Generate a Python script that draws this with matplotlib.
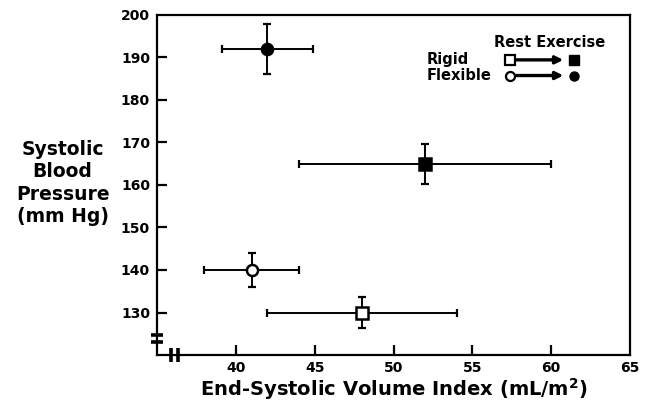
import matplotlib
matplotlib.use("Agg")
import matplotlib.pyplot as plt
from matplotlib.lines import Line2D

plt.rcParams['font.family'] = ['DejaVu Sans']
plt.rcParams['font.weight'] = 'bold'
plt.rcParams['mathtext.default'] = 'bf'

# Data: (x = ESVI mean, xerr, y = SBP mean, yerr)
groups = ["Rigid rest", "Rigid exercise", "Flexible rest", "Flexible exercise"]
esvi = [48, 52, 41, 42]
esvi_err = [6, 8, 3, 2.9]
sbp = [130, 165, 140, 192]
sbp_err = [3.7, 4.7, 3.9, 5.8]
markers = ["s", "s", "o", "o"]
filled = [False, True, False, True]

xticks = [40, 45, 50, 55, 60, 65]
yticks = [130, 140, 150, 160, 170, 180, 190, 200]

fig = plt.figure(figsize=(6.52, 4.03), dpi=100)
ax = fig.add_axes([0.2408, 0.1191, 0.7255, 0.8437])

for x, xe, y, ye, m, f in zip(esvi, esvi_err, sbp, sbp_err, markers, filled):
    ax.errorbar(x, y, xerr=xe, yerr=ye, fmt='none', ecolor='black',
                elinewidth=1.4, capsize=2.8, capthick=1.6, zorder=2)
    ax.plot(x, y, marker=m, markersize=8,
            markerfacecolor='black' if f else 'white',
            markeredgecolor='black', markeredgewidth=1.8, linestyle='none', zorder=3)

ax.set_xlim(35, 65)
ax.set_ylim(120, 200)
ax.set_xticks(xticks)
ax.set_yticks(yticks)
ax.tick_params(direction='in', length=7, width=1.6, labelsize=10)
ax.tick_params(axis='y', pad=5)
ax.tick_params(axis='x', pad=4)
for lab in ax.get_xticklabels() + ax.get_yticklabels():
    lab.set_fontweight('bold')
for t in ax.xaxis.get_major_ticks():
    if t.get_loc() == 65:
        t.tick1line.set_visible(False)
for t in ax.yaxis.get_major_ticks():
    if t.get_loc() == 200:
        t.tick1line.set_visible(False)
for s in ax.spines.values():
    s.set_linewidth(1.6)

ax.set_xlabel("End-Systolic Volume Index (mL/m$^2$)", fontsize=14,
              fontweight='bold', labelpad=1)
fig.text(0.096, 0.546, "Systolic\nBlood\nPressure\n(mm Hg)", ha='center', va='center',
         fontsize=13.5, fontweight='bold', linespacing=1.22)

# axis break marks
tr = ax.transData
for yb in (124.6, 123.0):
    ax.add_line(Line2D([34.6, 35.35], [yb, yb], color='black', lw=2.6,
                       transform=tr, clip_on=False, solid_capstyle='butt'))
ax.add_line(Line2D([35, 35], [123.2, 124.4], color='white', lw=3, transform=tr,
                   clip_on=False, zorder=1))
for xb in (35.9, 36.35):
    ax.add_line(Line2D([xb, xb], [118.3, 121.7], color='black', lw=2.6,
                       transform=tr, clip_on=False, solid_capstyle='butt'))
ax.add_line(Line2D([35.95, 36.3], [120, 120], color='white', lw=3, transform=tr,
                   clip_on=False, zorder=1))

# legend
ax.text(0.831, 0.918, "Rest Exercise", transform=ax.transAxes, fontsize=10.5,
        fontweight='bold', ha='center', va='center')
ax.text(0.571, 0.868, "Rigid", transform=ax.transAxes, fontsize=10.5,
        fontweight='bold', ha='left', va='center')
ax.text(0.571, 0.822, "Flexible", transform=ax.transAxes, fontsize=10.5,
        fontweight='bold', ha='left', va='center')
for yy, m in ((0.868, 's'), (0.822, 'o')):
    ax.plot(0.746, yy, marker=m, markersize=6.5, markerfacecolor='white',
            markeredgecolor='black', markeredgewidth=1.6, transform=ax.transAxes,
            clip_on=False)
    ax.plot(0.882, yy, marker=m, markersize=6.5, markerfacecolor='black',
            markeredgecolor='black', transform=ax.transAxes, clip_on=False)
    ax.annotate("", xy=(0.859, yy), xytext=(0.76, yy), xycoords='axes fraction',
                arrowprops=dict(arrowstyle='-|>', color='black', lw=2.4,
                                mutation_scale=11, shrinkA=0, shrinkB=0))

fig.savefig("out.png", dpi=100)
